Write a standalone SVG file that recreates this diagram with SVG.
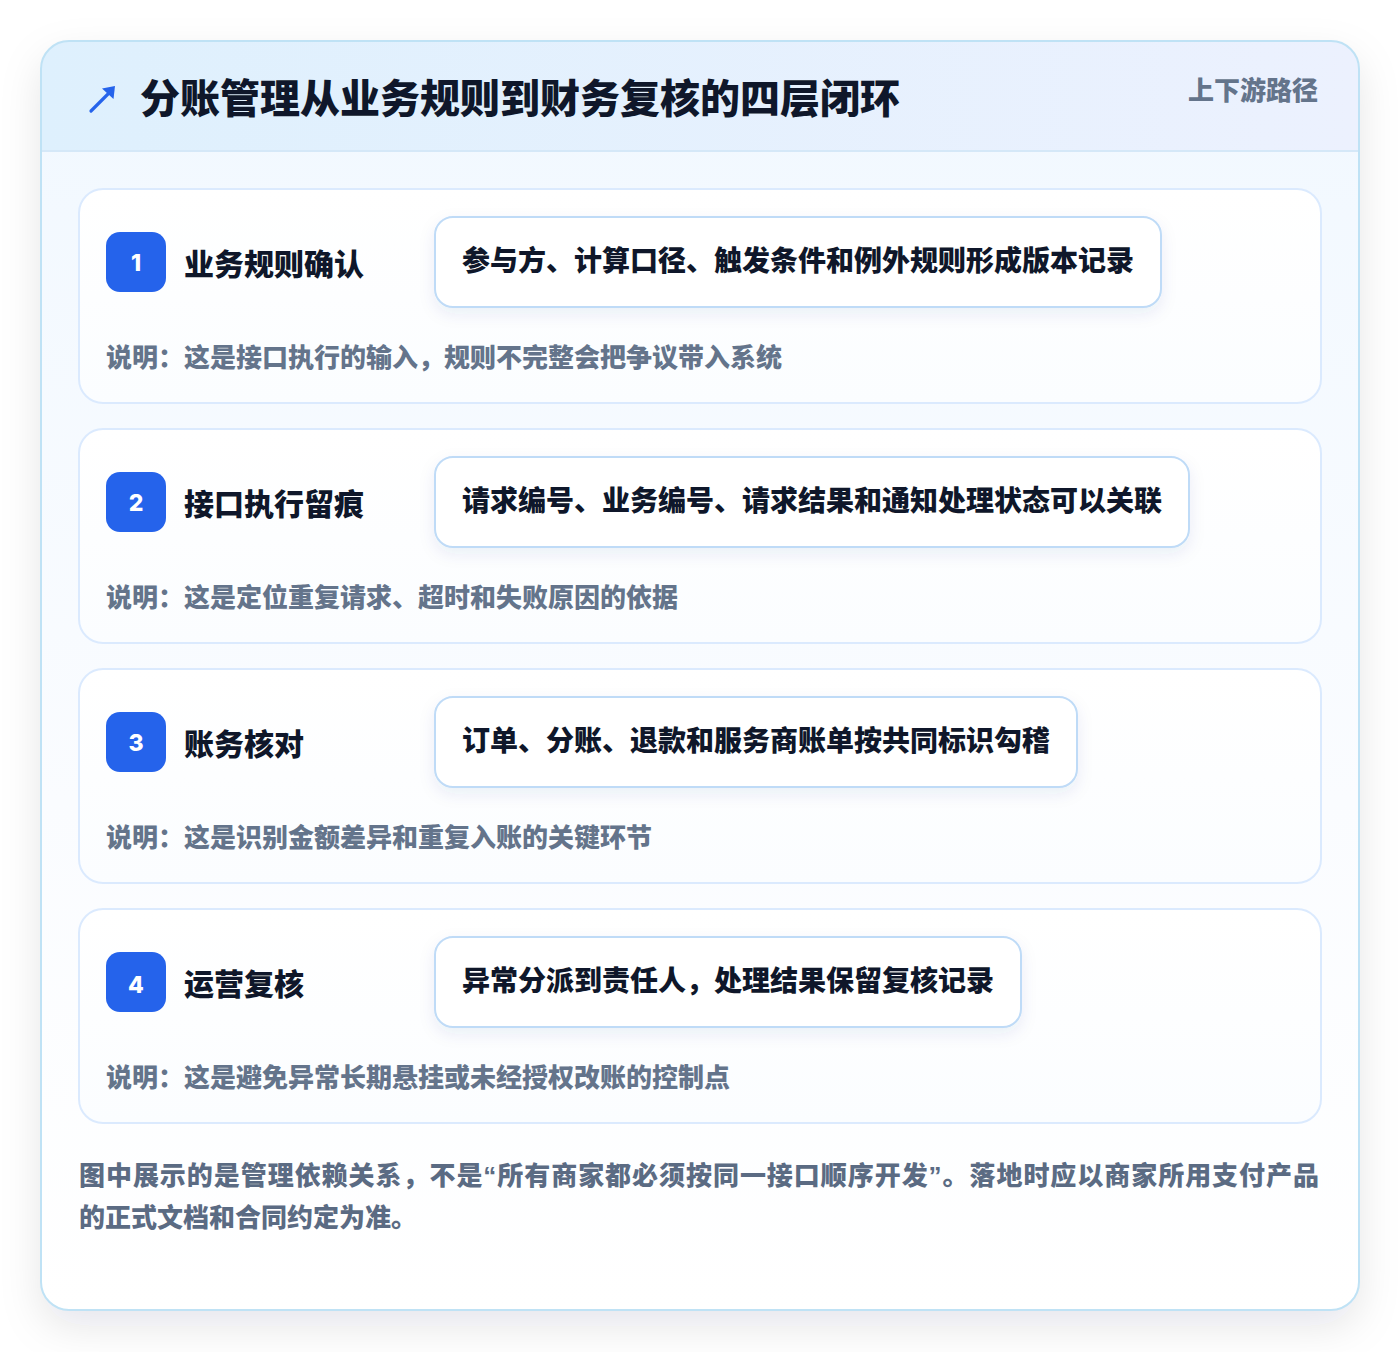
<svg xmlns="http://www.w3.org/2000/svg" width="1400" height="1352" viewBox="0 0 1400 1352">
  <defs>
    <linearGradient id="hdr" x1="0" y1="0" x2="1" y2="0">
      <stop offset="0" stop-color="#def0fd"/>
      <stop offset="1" stop-color="#ecf1fe"/>
    </linearGradient>
    <linearGradient id="body" x1="0" y1="0" x2="0" y2="1">
      <stop offset="0" stop-color="#f1f8ff"/>
      <stop offset="0.6" stop-color="#fafcff"/>
      <stop offset="1" stop-color="#ffffff"/>
    </linearGradient>
    <linearGradient id="cardg" x1="0" y1="0" x2="0" y2="1">
      <stop offset="0" stop-color="#ffffff"/>
      <stop offset="1" stop-color="#fbfdff"/>
    </linearGradient>
    <clipPath id="outerClip">
      <rect x="41" y="41" width="1318" height="1269" rx="28"/>
    </clipPath>
    <filter id="shadowOuter" x="-10%" y="-10%" width="120%" height="120%">
      <feDropShadow dx="0" dy="16" stdDeviation="20" flood-color="#0f172a" flood-opacity="0.10"/>
    </filter>
    <filter id="shadowPill" x="-10%" y="-30%" width="120%" height="170%">
      <feDropShadow dx="0" dy="6" stdDeviation="8" flood-color="#1e3a8a" flood-opacity="0.08"/>
    </filter>
    <style>
      .cjk { font-family: "Noto Sans CJK SC", "Noto Sans", sans-serif; font-weight: 900; }
      .card { fill: url(#cardg); stroke: #dbeafe; stroke-width: 2; }
      .badge { fill: #2563eb; }
      .num { font-family: "Inter", "Noto Sans", sans-serif; font-weight: 800; font-size: 23px; fill: #ffffff; text-anchor: middle; }
      .ntitle { font-size: 30px; fill: #0f172a; }
      .pill { fill: #ffffff; stroke: #bfdbf7; stroke-width: 2; filter: url(#shadowPill); }
      .ptext { font-size: 28px; fill: #0f172a; }
      .desc { font-size: 26px; fill: #64748b; }
      .foot { font-size: 26px; fill: #5b6b83; }
      .q { font-family: "Liberation Sans", sans-serif; font-weight: 700; }
    </style>
  </defs>

  <rect width="1400" height="1352" fill="#ffffff"/>

  <!-- outer card -->
  <g id="frame">
    <rect x="41" y="41" width="1318" height="1269" rx="28" fill="#ffffff" filter="url(#shadowOuter)"/>
    <g clip-path="url(#outerClip)">
      <rect x="41" y="41" width="1318" height="1269" fill="url(#body)"/>
      <rect x="41" y="41" width="1318" height="110" fill="url(#hdr)"/>
      <line x1="41" y1="151" x2="1359" y2="151" stroke="#d5e8f8" stroke-width="2"/>
    </g>
    <rect x="41" y="41" width="1318" height="1269" rx="28" fill="none" stroke="#bfe2f5" stroke-width="2"/>
  </g>

  <g id="header">
    <g id="icon">
      <line x1="91" y1="111" x2="110" y2="92" stroke="#2563eb" stroke-width="3.2" stroke-linecap="round"/>
      <polygon points="115,86 113.5,99 102,88.5" fill="#2563eb"/>
    </g>
    <text class="cjk" x="140" y="113" font-size="40" fill="#0f172a">分账管理从业务规则到财务复核的四层闭环</text>
    <text class="cjk" x="1318" y="100" font-size="26" fill="#64748b" text-anchor="end">上下游路径</text>
  </g>

  <g id="node1">
    <rect class="card" x="79" y="189" width="1242" height="214" rx="24"/>
    <rect class="badge" x="106" y="232" width="60" height="60" rx="14"/>
    <text class="num" x="136" y="271">1</text>
    <text class="cjk ntitle" x="184" y="275">业务规则确认</text>
    <rect class="pill" x="435" y="217" width="726" height="90" rx="18"/>
    <text class="cjk ptext" x="462" y="271">参与方、计算口径、触发条件和例外规则形成版本记录</text>
    <text class="cjk desc" x="106" y="367">说明：这是接口执行的输入，规则不完整会把争议带入系统</text>
  </g>

  <g id="node2">
    <rect class="card" x="79" y="429" width="1242" height="214" rx="24"/>
    <rect class="badge" x="106" y="472" width="60" height="60" rx="14"/>
    <text class="num" x="136" y="511">2</text>
    <text class="cjk ntitle" x="184" y="515">接口执行留痕</text>
    <rect class="pill" x="435" y="457" width="754" height="90" rx="18"/>
    <text class="cjk ptext" x="462" y="511">请求编号、业务编号、请求结果和通知处理状态可以关联</text>
    <text class="cjk desc" x="106" y="607">说明：这是定位重复请求、超时和失败原因的依据</text>
  </g>

  <g id="node3">
    <rect class="card" x="79" y="669" width="1242" height="214" rx="24"/>
    <rect class="badge" x="106" y="712" width="60" height="60" rx="14"/>
    <text class="num" x="136" y="751">3</text>
    <text class="cjk ntitle" x="184" y="755">账务核对</text>
    <rect class="pill" x="435" y="697" width="642" height="90" rx="18"/>
    <text class="cjk ptext" x="462" y="751">订单、分账、退款和服务商账单按共同标识勾稽</text>
    <text class="cjk desc" x="106" y="847">说明：这是识别金额差异和重复入账的关键环节</text>
  </g>

  <g id="node4">
    <rect class="card" x="79" y="909" width="1242" height="214" rx="24"/>
    <rect class="badge" x="106" y="952" width="60" height="60" rx="14"/>
    <text class="num" x="136" y="993">4</text>
    <text class="cjk ntitle" x="184" y="995">运营复核</text>
    <rect class="pill" x="435" y="937" width="586" height="90" rx="18"/>
    <text class="cjk ptext" x="462" y="991">异常分派到责任人，处理结果保留复核记录</text>
    <text class="cjk desc" x="106" y="1087">说明：这是避免异常长期悬挂或未经授权改账的控制点</text>
  </g>

  <g id="connectors"></g>

  <g id="footer">
    <text class="cjk foot" x="79" y="1185" textLength="1240" lengthAdjust="spacing">图中展示的是管理依赖关系，不是<tspan class="q">“</tspan>所有商家都必须按同一接口顺序开发<tspan class="q">”</tspan>。落地时应以商家所用支付产品</text>
    <text class="cjk foot" x="79" y="1227">的正式文档和合同约定为准。</text>
  </g>
</svg>
